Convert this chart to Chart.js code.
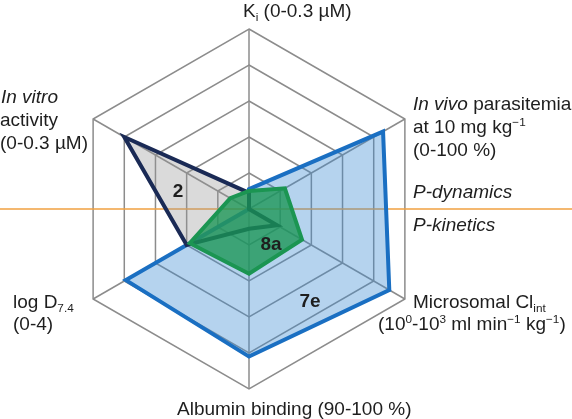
<!DOCTYPE html>
<html><head><meta charset="utf-8">
<script src="https://cdn.jsdelivr.net/npm/chart.js@4/dist/chart.umd.min.js"></script>
<style>html,body{margin:0;padding:0;background:#fff;overflow:hidden}</style>
</head><body>
<canvas id="c" width="572" height="419"></canvas>
<script>
// ---- data ----
const categories = ['Ki', 'In vivo parasitemia', 'Microsomal Clint', 'Albumin binding', 'log D7.4', 'In vitro activity'];
const seriesNames = ['8a', '2', '7e'];
const values8a = [0.10, 0.23, 0.34, 0.36, 0.38, 0.12];
const values2  = [0.09, 0.00, 0.18, 0.11, 0.40, 0.80];
const values7e = [0.11, 0.86, 0.90, 0.82, 0.79, 0.00];
const gridTicks = [0, 0.2, 0.4, 0.6, 0.8, 1.0];

const FONT = '"Liberation Sans", Arial, Helvetica, sans-serif';
const TXT = '#1e1e1e';

function drawRich(ctx, x, y, segs, size, align) {
  const parts = segs.map(s => {
    const sz = (s.sub || s.sup) ? size * 0.62 : size;
    const font = (s.i ? 'italic ' : '') + (s.b ? 'bold ' : '') + sz + 'px ' + FONT;
    ctx.font = font;
    return { t: s.t, font, w: ctx.measureText(s.t).width, dy: s.sub ? size * 0.2 : (s.sup ? -size * 0.36 : 0) };
  });
  const total = parts.reduce((a, p) => a + p.w, 0);
  let cx = align === 'center' ? x - total / 2 : (align === 'right' ? x - total : x);
  ctx.textAlign = 'left';
  ctx.textBaseline = 'alphabetic';
  ctx.fillStyle = TXT;
  for (const p of parts) { ctx.font = p.font; ctx.fillText(p.t, cx, y + p.dy); cx += p.w; }
}

const orangeLine = {
  id: 'orangeLine',
  beforeDatasetsDraw(chart) {
    const ctx = chart.ctx, r = chart.scales.r;
    ctx.save();
    ctx.strokeStyle = '#f0a040';
    ctx.lineWidth = 1.5;
    ctx.beginPath();
    ctx.moveTo(0, r.yCenter);
    ctx.lineTo(chart.width, r.yCenter);
    ctx.stroke();
    ctx.restore();
  }
};

const labelsPlugin = {
  id: 'labelsPlugin',
  afterDraw(chart) {
    const ctx = chart.ctx;
    const S = 19;
    ctx.save();
    drawRich(ctx, 243, 17, [{t: 'K'}, {t: 'i', sub: true}, {t: ' (0-0.3 µM)'}], S, 'left');
    drawRich(ctx, 1, 103, [{t: 'In vitro', i: true}], S, 'left');
    drawRich(ctx, 0, 126, [{t: 'activity'}], S, 'left');
    drawRich(ctx, 0, 149, [{t: '(0-0.3 µM)'}], S, 'left');
    drawRich(ctx, 413, 110, [{t: 'In vivo', i: true}, {t: ' parasitemia'}], S, 'left');
    drawRich(ctx, 413, 133, [{t: 'at 10 mg kg'}, {t: '−1', sup: true}], S, 'left');
    drawRich(ctx, 413, 156, [{t: '(0-100 %)'}], S, 'left');
    drawRich(ctx, 413, 198, [{t: 'P-dynamics', i: true}], S, 'left');
    drawRich(ctx, 413, 231, [{t: 'P-kinetics', i: true}], S, 'left');
    drawRich(ctx, 413, 308, [{t: 'Microsomal Cl'}, {t: 'int', sub: true}], S, 'left');
    drawRich(ctx, 378, 330, [{t: '(10'}, {t: '0', sup: true}, {t: '-10'}, {t: '3', sup: true}, {t: ' ml min'}, {t: '−1', sup: true}, {t: ' kg'}, {t: '−1', sup: true}, {t: ')'}], S, 'left');
    drawRich(ctx, 13, 308, [{t: 'log D'}, {t: '7.4', sub: true}], S, 'left');
    drawRich(ctx, 13, 330, [{t: '(0-4)'}], S, 'left');
    drawRich(ctx, 177, 415, [{t: 'Albumin binding (90-100 %)'}], S, 'left');
    drawRich(ctx, 178, 197, [{t: seriesNames[1], b: true}], S, 'center');
    drawRich(ctx, 271, 250, [{t: seriesNames[0], b: true}], S, 'center');
    drawRich(ctx, 310, 307, [{t: seriesNames[2], b: true}], S, 'center');
    ctx.restore();
  }
};

new Chart(document.getElementById('c'), {
  type: 'radar',
  data: {
    labels: categories,
    datasets: [
      { label: seriesNames[0], data: values8a, borderColor: '#1b9552', backgroundColor: 'rgba(25,150,85,0.78)', borderWidth: 4 },
      { label: seriesNames[1], data: values2, borderColor: '#1a2a55', backgroundColor: 'rgba(150,150,150,0.35)', borderWidth: 4 },
      { label: seriesNames[2], data: values7e, borderColor: '#1a6fc2', backgroundColor: 'rgba(60,140,210,0.38)', borderWidth: 4 }
    ]
  },
  options: {
    responsive: false,
    animation: false,
    devicePixelRatio: 1,
    layout: { padding: { left: 69, right: 143, top: 29, bottom: 30 } },
    elements: { line: { tension: 0, fill: true, borderJoinStyle: 'miter' }, point: { radius: 0, hoverRadius: 0 } },
    plugins: { legend: { display: false }, tooltip: { enabled: false } },
    scales: {
      r: {
        min: gridTicks[0], max: gridTicks[gridTicks.length - 1],
        ticks: { display: false, stepSize: gridTicks[1] - gridTicks[0] },
        pointLabels: { display: false },
        grid: { color: '#8c8c8c', lineWidth: 1.5, circular: false },
        angleLines: { color: '#8c8c8c', lineWidth: 1.5 }
      }
    }
  },
  plugins: [orangeLine, labelsPlugin]
});
</script>
</body></html>
